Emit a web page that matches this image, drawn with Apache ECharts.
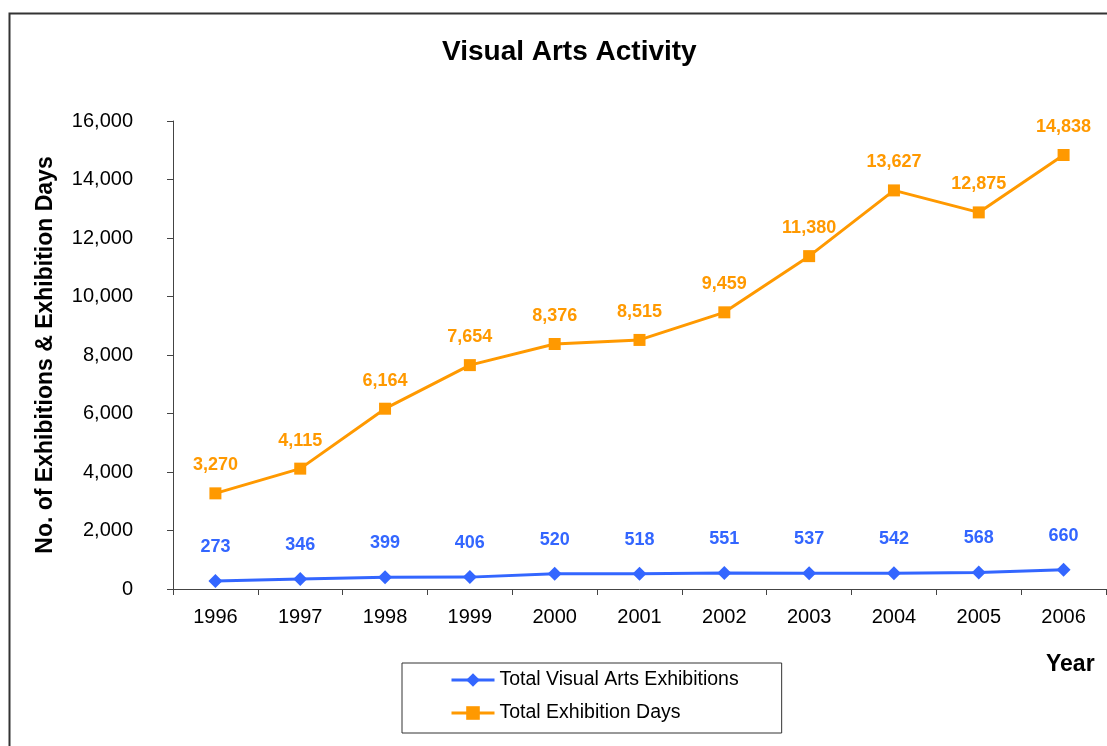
<!DOCTYPE html>
<html>
<head>
<meta charset="utf-8">
<script src="https://cdn.jsdelivr.net/npm/echarts@6/dist/echarts.min.js"></script>
<style>
  html, body { margin: 0; padding: 0; background: #fff; }
  #chart { width: 1107px; height: 746px; }
</style>
</head>
<body>
<div id="chart"></div>
<script>
// data
const years = ['1996', '1997', '1998', '1999', '2000', '2001', '2002', '2003', '2004', '2005', '2006'];
const exhibitions = [273, 346, 399, 406, 520, 518, 551, 537, 542, 568, 660];
const exhibitionDays = [3270, 4115, 6164, 7654, 8376, 8515, 9459, 11380, 13627, 12875, 14838];

const FONT = '"Liberation Sans", Arial, Helvetica, sans-serif';
const BLUE = '#3366ff';
const ORANGE = '#ff9900';

const fmt = (v) => Number(v).toLocaleString('en-US');

const chart = echarts.init(document.getElementById('chart'));

const option = {
    backgroundColor: '#fff',
    animation: false,
    textStyle: { fontFamily: FONT },
    title: {
        text: 'Visual Arts Activity',
        left: 437,
        top: 33,
        textStyle: { fontFamily: FONT, fontSize: 28, fontWeight: 'bold', color: '#000' },
    },
    grid: { left: 173, right: 1, top: 121, bottom: 157 },
    legend: {
        orient: 'vertical',
        left: 402,
        top: 663,
        padding: [7, 43, 10, 48],
        itemGap: 13,
        itemWidth: 43,
        itemHeight: 17,
        borderColor: '#333',
        borderWidth: 1,
        lineStyle: { width: 3 },
        textStyle: { fontFamily: FONT, fontSize: 19.5, color: '#000' },
        data: ['Total Visual Arts Exhibitions', 'Total Exhibition Days'],
    },
    xAxis: {
        type: 'category',
        data: years,
        boundaryGap: true,
        axisLine: { lineStyle: { color: '#444', width: 1 } },
        axisTick: { show: true, length: 6, inside: false, lineStyle: { color: '#444' } },
        axisLabel: { color: '#000', fontSize: 20, margin: 18, fontFamily: FONT },
    },
    yAxis: {
        type: 'value',
        min: 0,
        max: 16000,
        interval: 2000,
        name: 'No. of Exhibitions & Exhibition Days',
        nameLocation: 'middle',
        nameGap: 116,
        nameTextStyle: { fontFamily: FONT, fontSize: 23, fontWeight: 'bold', color: '#000' },
        splitLine: { show: false },
        axisLine: { show: true, lineStyle: { color: '#444', width: 1 } },
        axisTick: { show: true, length: 6, inside: false, lineStyle: { color: '#444' } },
        axisLabel: { color: '#000', fontSize: 20, margin: 40, fontFamily: FONT, formatter: fmt },
    },
    series: [
        {
            name: 'Total Visual Arts Exhibitions',
            type: 'line',
            data: exhibitions,
            symbol: 'diamond',
            symbolSize: 14,
            color: BLUE,
            lineStyle: { color: BLUE, width: 3 },
            itemStyle: { color: BLUE },
            label: {
                show: true,
                position: 'top',
                distance: 18,
                color: BLUE,
                fontSize: 18,
                fontWeight: 'bold',
                fontFamily: FONT,
                formatter: (p) => fmt(p.value),
            },
        },
        {
            name: 'Total Exhibition Days',
            type: 'line',
            data: exhibitionDays,
            symbol: 'rect',
            symbolSize: 12,
            color: ORANGE,
            lineStyle: { color: ORANGE, width: 3 },
            itemStyle: { color: ORANGE },
            label: {
                show: true,
                position: 'top',
                distance: 13,
                color: ORANGE,
                fontSize: 18,
                fontWeight: 'bold',
                fontFamily: FONT,
                formatter: (p) => fmt(p.value),
            },
        },
    ],
    graphic: [
        {
            type: 'rect',
            left: 7,
            top: 11,
            z: -10,
            shape: { width: 1200, height: 800 },
            style: { fill: 'none', stroke: '#333', lineWidth: 2 },
        },
        {
            type: 'text',
            left: 1046,
            top: 653,
            style: { text: 'Year', font: 'bold 23px ' + FONT, fill: '#000' },
        },
    ],
};

chart.setOption(option);
</script>
</body>
</html>
